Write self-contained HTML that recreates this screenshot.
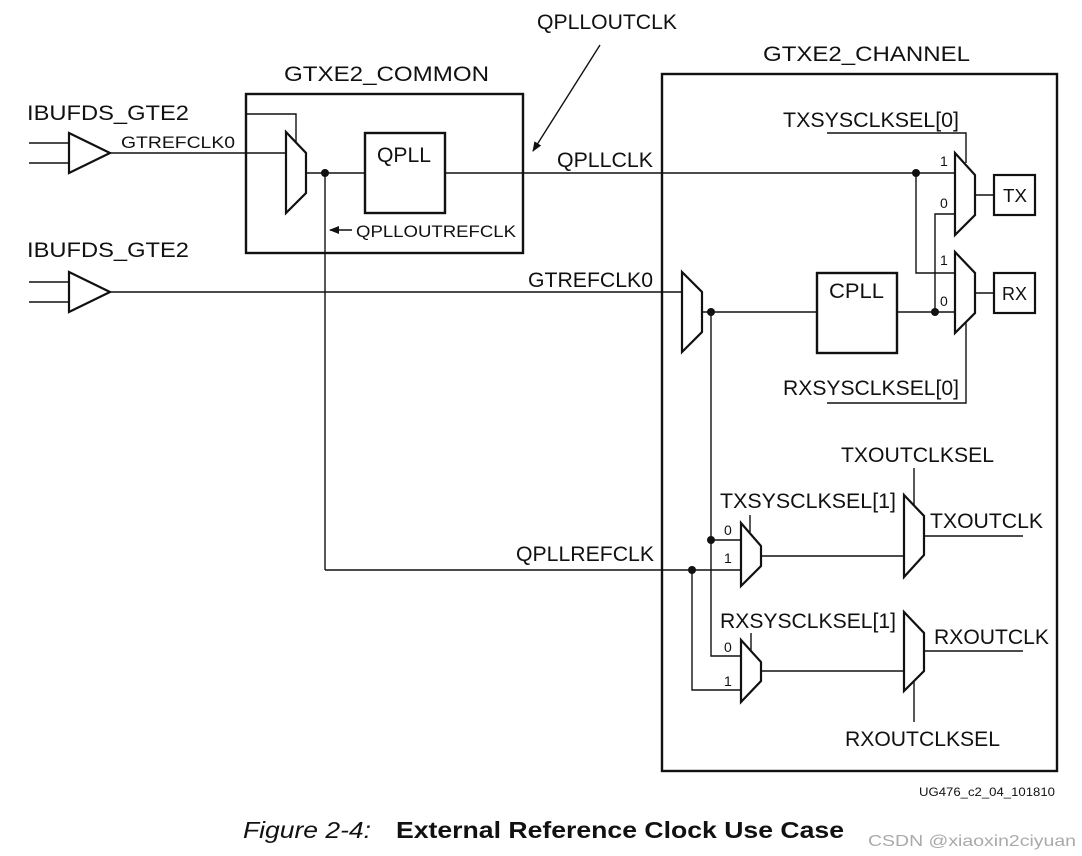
<!DOCTYPE html>
<html><head><meta charset="utf-8"><style>
html,body{margin:0;padding:0;background:#fff;}
svg{display:block;font-family:"Liberation Sans",Arial,sans-serif;}
</style></head><body>
<svg width="1082" height="856" viewBox="0 0 1082 856" xmlns="http://www.w3.org/2000/svg">
<defs><marker id="ah" markerWidth="10" markerHeight="8" refX="9" refY="4" orient="auto" markerUnits="userSpaceOnUse"><path d="M0,0 L10,4 L0,8 z" fill="#111"/></marker></defs>
<g fill="none" stroke="#111" stroke-width="1.4">
<line x1="29" y1="143" x2="69" y2="143"/><line x1="29" y1="163" x2="69" y2="163"/>
<path d="M69,133 L110,153 L69,173 Z" stroke-width="2.2"/>
<line x1="29" y1="282" x2="69" y2="282"/><line x1="29" y1="302" x2="69" y2="302"/>
<path d="M69,272 L110,292 L69,312 Z" stroke-width="2.2"/>
<rect x="246" y="94" width="277" height="159" stroke-width="2.4"/>
<line x1="110" y1="153" x2="286" y2="153"/>
<polyline points="246,114 296,114 296,142"/>
<path d="M286,132 L306,153 L306,193 L286,213 Z" stroke-width="2.2"/>
<line x1="306" y1="173" x2="365" y2="173"/>
<rect x="365" y="133" width="80" height="80" stroke-width="2.4"/>
<line x1="445" y1="173" x2="955" y2="173"/>
<line x1="325" y1="173" x2="325" y2="570"/>
<line x1="352" y1="230" x2="330" y2="230" marker-end="url(#ah)"/>
<line x1="600" y1="45" x2="533" y2="151" marker-end="url(#ah)"/>
<rect x="662" y="74" width="395" height="697" stroke-width="2.4"/>
<line x1="110" y1="292" x2="682" y2="292"/>
<path d="M682,272 L702,292 L702,332 L682,352 Z" stroke-width="2.2"/>
<line x1="702" y1="312" x2="817" y2="312"/>
<rect x="817" y="273" width="80" height="80" stroke-width="2.4"/>
<line x1="897" y1="312" x2="955" y2="312"/>
<polyline points="935,312 935,214 955,214"/>
<polyline points="916,173 916,273 955,273"/>
<path d="M955,153 L975,175 L975,215 L955,235 Z" stroke-width="2.2"/>
<path d="M955,252 L975,273 L975,313 L955,333 Z" stroke-width="2.2"/>
<line x1="975" y1="195" x2="994" y2="195"/><line x1="975" y1="293" x2="994" y2="293"/>
<rect x="994" y="175" width="41" height="40" stroke-width="2.2"/>
<rect x="994" y="273" width="41" height="40" stroke-width="2.2"/>
<polyline points="827,133 966,133 966,163"/>
<polyline points="827,403 966,403 966,323"/>
<polyline points="711,312 711,656 741,656"/>
<line x1="711" y1="540" x2="741" y2="540"/>
<line x1="325" y1="570" x2="741" y2="570"/>
<polyline points="692,570 692,690 741,690"/>
<path d="M741,523 L761,546 L761,566 L741,586 Z" stroke-width="2.2"/>
<path d="M741,640 L761,662 L761,681 L741,702 Z" stroke-width="2.2"/>
<line x1="761" y1="556" x2="904" y2="556"/>
<line x1="761" y1="671" x2="904" y2="671"/>
<path d="M904,495 L924,516 L924,555 L904,577 Z" stroke-width="2.2"/>
<path d="M904,612 L924,633 L924,671 L904,691 Z" stroke-width="2.2"/>
<line x1="924" y1="536" x2="1023" y2="536"/>
<line x1="924" y1="651" x2="1023" y2="651"/>
<line x1="914" y1="468" x2="914" y2="505"/>
<line x1="914" y1="681" x2="914" y2="722"/>
<line x1="750" y1="515" x2="750" y2="532"/>
<line x1="751" y1="633" x2="751" y2="650"/>
</g>
<g fill="#111">
<circle cx="325" cy="173" r="4"/><circle cx="916" cy="173" r="4"/><circle cx="935" cy="312" r="4"/>
<circle cx="711" cy="312" r="4"/><circle cx="711" cy="540" r="4"/><circle cx="692" cy="570" r="4"/>
</g>
<g fill="#111" font-size="21" lengthAdjust="spacingAndGlyphs">
<text x="27" y="120" textLength="162" lengthAdjust="spacingAndGlyphs">IBUFDS_GTE2</text>
<text x="27" y="257" textLength="162" lengthAdjust="spacingAndGlyphs">IBUFDS_GTE2</text>
<text x="284" y="81" textLength="205" lengthAdjust="spacingAndGlyphs">GTXE2_COMMON</text>
<text x="763" y="61" textLength="207" lengthAdjust="spacingAndGlyphs">GTXE2_CHANNEL</text>
<text x="537" y="29" textLength="140" lengthAdjust="spacingAndGlyphs">QPLLOUTCLK</text>
<text x="557" y="167" textLength="96" lengthAdjust="spacingAndGlyphs">QPLLCLK</text>
<text x="528" y="287" textLength="125" lengthAdjust="spacingAndGlyphs">GTREFCLK0</text>
<text x="516" y="561" textLength="138" lengthAdjust="spacingAndGlyphs">QPLLREFCLK</text>
<text x="377" y="162" textLength="54" lengthAdjust="spacingAndGlyphs">QPLL</text>
<text x="829" y="298" textLength="55" lengthAdjust="spacingAndGlyphs">CPLL</text>
<text x="1003" y="202" font-size="18" textLength="24" lengthAdjust="spacingAndGlyphs">TX</text>
<text x="1002" y="300" font-size="18" textLength="25" lengthAdjust="spacingAndGlyphs">RX</text>
<text x="783" y="127" textLength="176" lengthAdjust="spacingAndGlyphs">TXSYSCLKSEL[0]</text>
<text x="783" y="395" textLength="176" lengthAdjust="spacingAndGlyphs">RXSYSCLKSEL[0]</text>
<text x="841" y="462" textLength="153" lengthAdjust="spacingAndGlyphs">TXOUTCLKSEL</text>
<text x="720" y="508" textLength="176" lengthAdjust="spacingAndGlyphs">TXSYSCLKSEL[1]</text>
<text x="930" y="528" textLength="113" lengthAdjust="spacingAndGlyphs">TXOUTCLK</text>
<text x="720" y="628" textLength="176" lengthAdjust="spacingAndGlyphs">RXSYSCLKSEL[1]</text>
<text x="934" y="644" textLength="115" lengthAdjust="spacingAndGlyphs">RXOUTCLK</text>
<text x="845" y="746" textLength="155" lengthAdjust="spacingAndGlyphs">RXOUTCLKSEL</text>
</g>
<g fill="#111" font-size="17">
<text x="121" y="148" textLength="114" lengthAdjust="spacingAndGlyphs">GTREFCLK0</text>
<text x="356" y="237" textLength="160" lengthAdjust="spacingAndGlyphs">QPLLOUTREFCLK</text>
</g>
<g fill="#111" font-size="14">
<text x="940" y="166">1</text><text x="940" y="208">0</text>
<text x="940" y="265">1</text><text x="940" y="306">0</text>
<text x="724" y="535">0</text><text x="724" y="563">1</text>
<text x="724" y="652">0</text><text x="724" y="686">1</text>
</g>
<text x="919" y="796" font-size="12" fill="#111" textLength="136" lengthAdjust="spacingAndGlyphs">UG476_c2_04_101810</text>
<text x="243" y="838" font-size="23" font-style="italic" fill="#111" textLength="128" lengthAdjust="spacingAndGlyphs">Figure 2-4:</text>
<text x="396" y="838" font-size="23" font-weight="bold" fill="#111" textLength="448" lengthAdjust="spacingAndGlyphs">External Reference Clock Use Case</text>
<text x="868" y="846" font-size="16" fill="#aaa" textLength="208" lengthAdjust="spacingAndGlyphs">CSDN @xiaoxin2ciyuan</text>
</svg>
</body></html>
